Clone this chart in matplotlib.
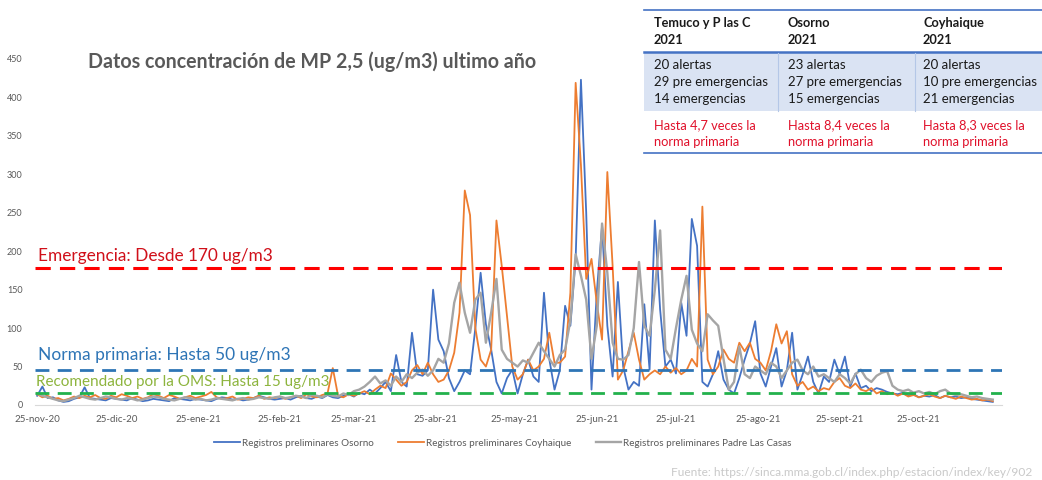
import pandas as pd
import matplotlib
matplotlib.use("Agg")
import matplotlib.pyplot as plt
from matplotlib.patches import Rectangle

plt.rcParams['font.family'] = ['Lato', 'DejaVu Sans']

# daily-ish data (every 2 days) starting 25-nov-2020
start = "2020-11-25"
osorno = [12, 24, 9, 10, 6, 4, 5, 8, 10, 23, 9, 8, 7, 6, 9, 8, 7, 6, 9, 7,
          5, 6, 8, 7, 6, 5, 9, 8, 7, 6, 8, 7, 6, 5, 8, 10, 9, 7, 8, 6,
          7, 9, 12, 10, 8, 7, 8, 9, 7, 10, 12, 9, 8, 11, 9, 13, 10, 9, 12, 14,
          11, 16, 14, 20, 15, 22, 30, 18, 65, 30, 24, 94, 40, 38, 45, 150, 85, 70, 35, 18,
          30, 45, 40, 100, 172, 105, 72, 30, 15, 35, 46, 15, 40, 59, 37, 30, 146, 60, 20, 45,
          129, 103, 190, 423, 250, 20, 146, 233, 103, 37, 160, 50, 20, 30, 25, 131, 46, 240, 124, 50,
          59, 41, 133, 90, 242, 207, 30, 24, 40, 70, 33, 20, 15, 35, 59, 80, 109, 41, 24, 50,
          74, 24, 45, 94, 20, 40, 63, 30, 15, 37, 30, 59, 40, 63, 24, 41, 22, 25, 18, 22,
          20, 17, 15, 14, 16, 12, 14, 10, 12, 11, 13, 9, 12, 10, 11, 9, 10, 8, 7, 6,
          5, 4]
coyhaique = [14, 10, 12, 8, 9, 6, 8, 11, 9, 12, 10, 13, 9, 8, 12, 10, 14, 12, 9, 11,
             8, 10, 14, 12, 9, 13, 11, 8, 10, 12, 9, 11, 13, 17, 10, 8, 9, 11, 7, 8,
             10, 9, 12, 8, 10, 9, 11, 8, 10, 12, 9, 14, 11, 10, 13, 15, 48, 12, 10, 14,
             12, 15, 18, 14, 20, 25, 22, 41, 33, 25, 30, 45, 52, 40, 55, 40, 30, 33, 45, 68,
             120, 279, 247, 100, 59, 50, 72, 240, 181, 116, 50, 33, 40, 59, 45, 50, 60, 94, 55, 55,
             63, 146, 419, 312, 164, 190, 133, 85, 303, 181, 33, 45, 70, 94, 59, 33, 40, 45, 40, 50,
             42, 48, 40, 45, 60, 50, 258, 59, 40, 50, 72, 60, 55, 81, 70, 81, 60, 55, 45, 70,
             105, 80, 96, 40, 25, 30, 20, 24, 18, 22, 20, 30, 35, 25, 22, 28, 20, 18, 22, 15,
             18, 14, 16, 12, 15, 11, 13, 10, 12, 14, 11, 9, 12, 10, 8, 11, 9, 7, 8, 6,
             7, 5]
padre_las_casas = [15, 12, 10, 8, 6, 5, 7, 9, 12, 10, 8, 7, 9, 11, 10, 8, 7, 9, 8, 6,
                   7, 9, 11, 10, 8, 7, 6, 8, 10, 9, 7, 8, 6, 7, 9, 8, 7, 6, 8, 9,
                   7, 8, 10, 9, 8, 10, 11, 9, 10, 12, 11, 9, 13, 12, 10, 14, 12, 11, 15, 13,
                   18, 20, 24, 30, 37, 28, 32, 25, 37, 30, 40, 35, 42, 46, 38, 45, 60, 55, 80, 133,
                   159, 120, 94, 137, 146, 81, 120, 164, 72, 60, 55, 50, 58, 55, 68, 81, 70, 60, 50, 65,
                   72, 110, 196, 168, 137, 60, 103, 236, 172, 81, 60, 59, 65, 100, 186, 103, 90, 150, 227, 72,
                   60, 100, 137, 168, 98, 80, 70, 118, 110, 103, 60, 20, 30, 76, 40, 35, 50, 45, 40, 55,
                   50, 35, 45, 55, 59, 45, 40, 50, 37, 40, 35, 30, 40, 35, 28, 40, 46, 35, 30, 38,
                   42, 44, 25, 20, 18, 20, 16, 18, 15, 17, 14, 18, 20, 15, 13, 14, 12, 10, 11, 9,
                   8, 7]
tick_labels = ['25-nov-20', '25-dic-20', '25-ene-21', '25-feb-21', '25-mar-21', '25-abr-21',
               '25-may-21', '25-jun-21', '25-jul-21', '25-ago-21', '25-sept-21', '25-oct-21']
niveles = [178, 45, 16]  # emergencia, norma primaria, OMS (as drawn)

fechas = pd.date_range(start, periods=len(osorno), freq="2D")
ticks = pd.date_range("2020-11-01", periods=12, freq="MS") + pd.Timedelta(days=24)

W, H = 1042, 480
fig = plt.figure(figsize=(W / 100, H / 100), dpi=100)
ax = fig.add_axes([35 / W, 75 / H, 967 / W, 346 / H])

ax.plot(fechas, osorno, color="#4472C4", lw=1.3, label="Registros preliminares Osorno")
ax.plot(fechas, coyhaique, color="#ED7D31", lw=1.3, label="Registros preliminares Coyhaique")
ax.plot(fechas, padre_las_casas, color="#A5A5A5", lw=1.7, label="Registros preliminares Padre Las Casas")

ax.axhline(niveles[0], color="#FF0000", lw=2.2, dashes=(5, 3))
ax.axhline(niveles[1], color="#2E75B6", lw=2.0, dashes=(5, 3))
ax.axhline(niveles[2], color="#22B14C", lw=2.0, dashes=(5, 3))

t0 = pd.Timestamp(start)
ax.set_xlim(t0 - pd.Timedelta(days=0.8), t0 + pd.Timedelta(days=365.5))
ax.set_ylim(0, 450)
ax.set_yticks(range(0, 451, 50))
ax.set_xticks(ticks)
ax.set_xticklabels(tick_labels)
ax.tick_params(length=0, labelsize=6.5, labelcolor="#595959")
ax.tick_params(axis="x", pad=7, labelsize=7)
ax.tick_params(axis="y", pad=9)
for s in ["top", "right", "left"]:
    ax.spines[s].set_visible(False)
ax.spines["bottom"].set_color("#D9D9D9")

leg = ax.legend(loc="center", bbox_to_anchor=(503 / W, 1 - 443 / H), bbox_transform=fig.transFigure,
                ncol=3, frameon=False, fontsize=7.1, handlelength=2.6, handletextpad=0.2,
                columnspacing=2.5)
for t in leg.get_texts():
    t.set_color("#595959")

# overlay in pixel coords for texts and the summary table
ov = fig.add_axes([0, 0, 1, 1], zorder=5)
ov.set_xlim(0, W)
ov.set_ylim(H, 0)
ov.axis("off")
ov.patch.set_alpha(0)

ov.text(88, 62, "Datos concentración de MP 2,5 (ug/m3) ultimo año", fontsize=14.1,
        fontweight="bold", color="#595959", va="center")
ov.text(38, 256, "Emergencia: Desde 170 ug/m3", fontsize=12.4, color="#D0101A", va="center")
ov.text(38, 355, "Norma primaria: Hasta 50 ug/m3", fontsize=12.5, color="#2E75B6", va="center")
ov.text(36, 382, "Recomendado por la OMS: Hasta 15 ug/m3", fontsize=11, color="#8DB43D", va="center")
ov.text(1032, 473, "Fuente: https://sinca.mma.gob.cl/index.php/estacion/index/key/902",
        fontsize=8.6, color="#C9C9C9", ha="right", va="center")

# table
ov.add_patch(Rectangle((644, 53), 398, 58, color="#DAE3F3", lw=0))
ov.plot([644, 1042], [10, 10], color="#4472C4", lw=1.2)
ov.plot([644, 1042], [52, 52], color="#4472C4", lw=1.8)
ov.plot([644, 1042], [153, 153], color="#4472C4", lw=1.2)
for xs in [778, 915]:
    ov.plot([xs, xs], [53, 111], color="#B4C7E7", lw=0.8)

col_x = [654, 788, 923]
cabeceras = ["Temuco y P las C", "Osorno", "Coyhaique"]
avisos = [["20 alertas", "29 pre emergencias", "14 emergencias"],
          ["23 alertas", "27 pre emergencias", "15 emergencias"],
          ["20 alertas", "10 pre emergencias", "21 emergencias"]]
veces = ["4,7", "8,4", "8,3"]
for cx, cab, av, v in zip(col_x, cabeceras, avisos, veces):
    ov.text(cx, 23, cab, fontsize=9.2, fontweight="bold", color="#1A1A1A", va="center")
    ov.text(cx, 40, "2021", fontsize=9.2, fontweight="bold", color="#1A1A1A", va="center")
    for k, linea in enumerate(av):
        ov.text(cx, 65 + 17 * k, linea, fontsize=9.5, color="#1A1A1A", va="center")
    ov.text(cx, 125, "Hasta " + v + " veces la", fontsize=9.3, color="#E0102A", va="center")
    ov.text(cx, 142, "norma primaria", fontsize=9.3, color="#E0102A", va="center")

fig.savefig("out.png", dpi=100)
